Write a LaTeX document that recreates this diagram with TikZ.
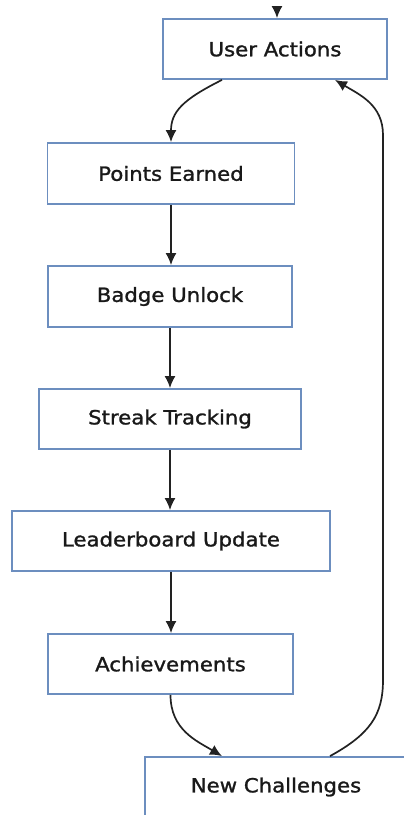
\documentclass[tikz,border=0pt]{standalone}
\usepackage{fontspec}
\newfontfamily\lab[FakeStretch=1.09,FakeBold=1.3]{DejaVu Sans}
\usetikzlibrary{arrows.meta}
\definecolor{boxline}{HTML}{6C8EBF}
\definecolor{edge}{HTML}{222222}
\tikzset{
  stepbox/.style={draw=boxline, line width=1.8pt, fill=white, rectangle, inner sep=0pt,
    minimum height=60pt, font=\lab\fontsize{19.5}{22}\selectfont, text=black!90},
  flow/.style={draw=edge, line width=1.7pt, -{Latex[length=12pt,width=11pt]}}
}
\begin{document}
\begin{tikzpicture}[x=1pt,y=-1pt]
\useasboundingbox (0,0) rectangle (404,815);
\node[stepbox, minimum width=224pt] (ua) at (275,49) {User Actions};
\node[stepbox, minimum width=247pt, minimum height=61pt] (pe) at (171,173.5) {Points Earned};
\node[stepbox, minimum width=244pt, minimum height=61pt] (bu) at (170,296.5) {Badge Unlock};
\node[stepbox, minimum width=262pt] (st) at (170,419) {Streak Tracking};
\node[stepbox, minimum width=318pt] (lu) at (171,541) {Leaderboard Update};
\node[stepbox, minimum width=245pt] (ac) at (170.5,664) {Achievements};
\node[stepbox, minimum width=262pt] (nc) at (276,787) {\raisebox{-2pt}{New Challenges}};
\coordinate (top) at (277,7);
\draw[flow] (top) -- (top |- ua.north);
\draw[flow] ([xshift=-53pt]ua.south) .. controls +(-40,20) and +(0,-30) .. (pe.north);
\draw[flow] (pe.south) -- (pe.south |- bu.north);
\draw[flow] (bu.south) -- (bu.south |- st.north);
\draw[flow] (st.south) -- (st.south |- lu.north);
\draw[flow] (lu.south) -- (lu.south |- ac.north);
\draw[flow] (ac.south) .. controls +(0,35) and +(-25,-15) .. ([xshift=-54pt]nc.north);
\draw[flow] ([xshift=54pt]nc.north) .. controls +(40,-22) and +(0,35) .. (383,680) -- (383,135) .. controls +(0,-30) and +(25,15) .. ([xshift=60pt]ua.south);
\end{tikzpicture}
\end{document}
